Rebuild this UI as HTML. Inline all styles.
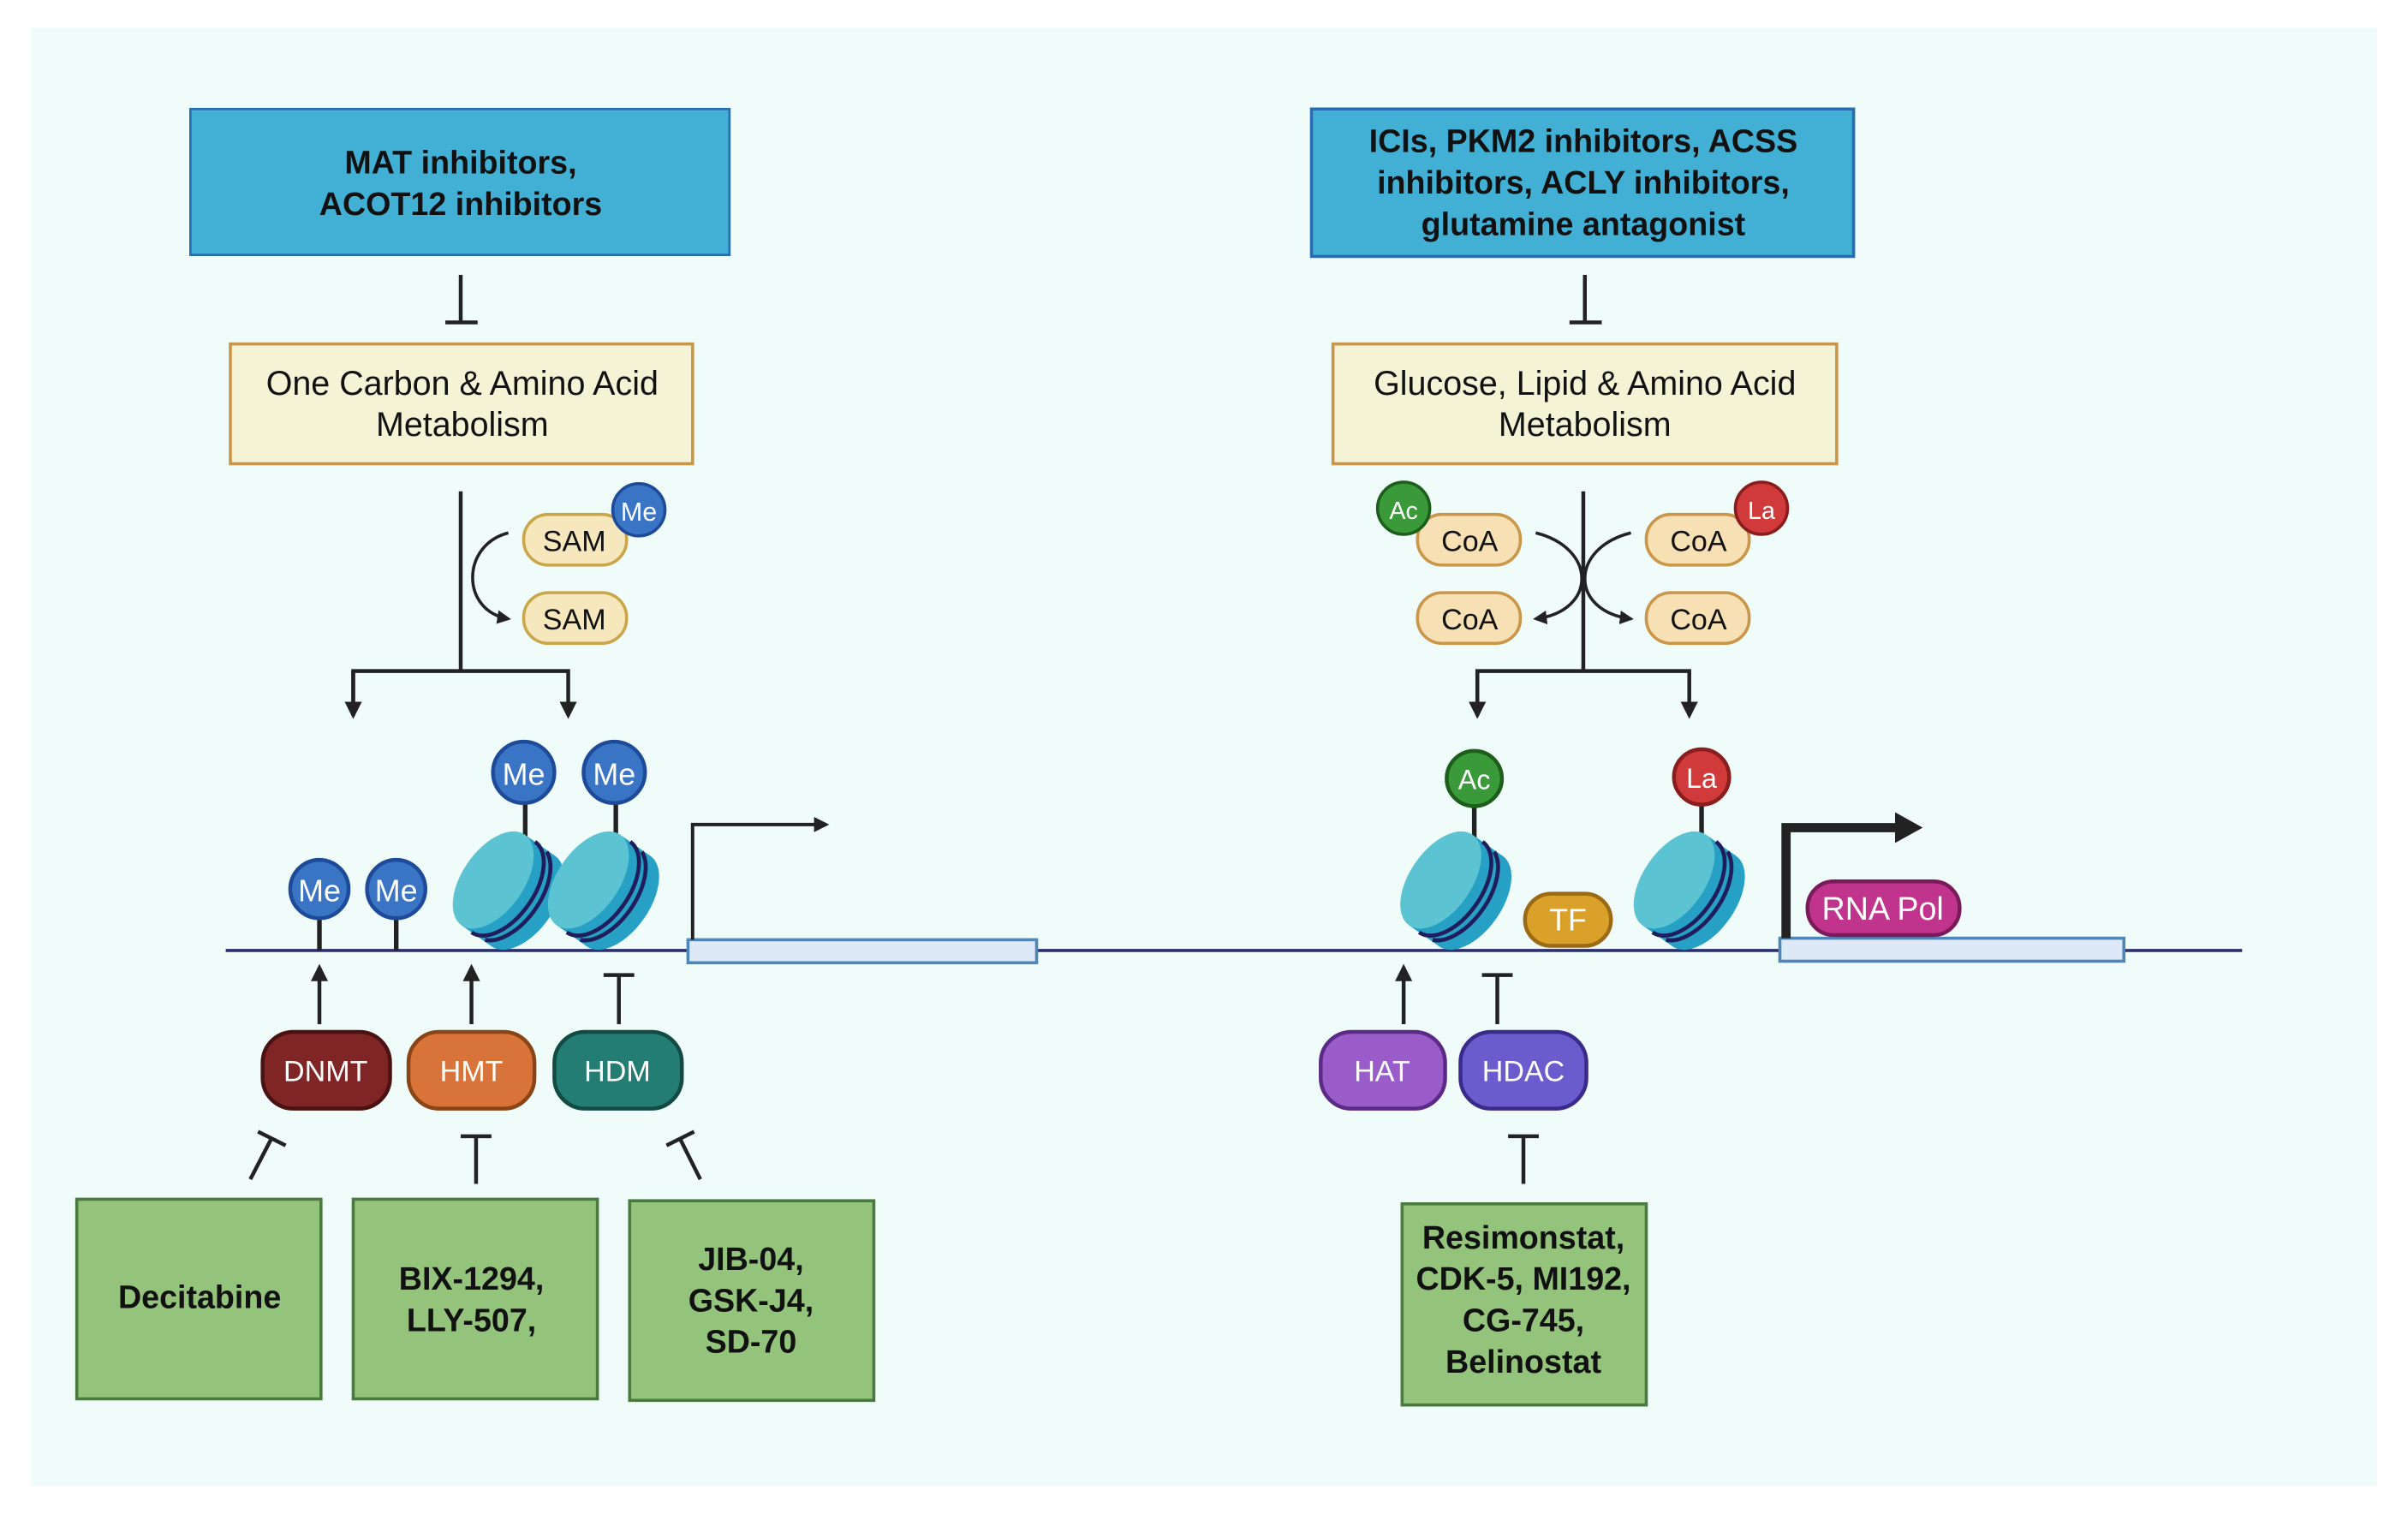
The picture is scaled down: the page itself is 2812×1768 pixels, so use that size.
<!DOCTYPE html>
<html><head><meta charset="utf-8"><style>
html,body{margin:0;padding:0;background:#fff}
svg{display:block}
text{font-family:"Liberation Sans","DejaVu Sans",sans-serif}
</style></head><body>
<svg width="2812" height="1768" viewBox="0 0 1568 986" preserveAspectRatio="none" xmlns="http://www.w3.org/2000/svg">
<defs>
<marker id="ah" viewBox="0 0 10 10" refX="8" refY="5" markerWidth="4.5" markerHeight="4.5" orient="auto"><path d="M0,0 L10,5 L0,10 z" fill="#222"/></marker>
<g id="nuc">
<g transform="rotate(35)">
<ellipse cx="12" cy="0" rx="20" ry="36" fill="#27a0c5"/>
<rect x="-12" y="-36" width="24" height="72" fill="#27a0c5"/>
<ellipse cx="-12" cy="0" rx="20" ry="36" fill="#5bc3d2"/>
<path d="M-4,-36 A20 36 0 0 1 -4,36" fill="none" stroke="#1f1d5c" stroke-width="2.6"/>
<path d="M6,-35 A20 36 0 0 1 6,35" fill="none" stroke="#1f1d5c" stroke-width="2.6"/>
</g>
</g>
</defs>
<rect x="0" y="0" width="1568" height="986" fill="#fff"/>
<rect x="20" y="18" width="1528" height="950" fill="#effcfa"/>

<!-- LEFT -->
<rect x="124" y="71" width="351" height="95" fill="#42b0d5" stroke="#2a6cb0" stroke-width="1.5"/>
<text x="300" y="113" font-size="21" font-weight="bold" text-anchor="middle" fill="#111">MAT inhibitors,</text>
<text x="300" y="140" font-size="21" font-weight="bold" text-anchor="middle" fill="#111">ACOT12 inhibitors</text>
<line x1="300" y1="179" x2="300" y2="210" stroke="#222" stroke-width="2.5"/>
<line x1="290" y1="210" x2="311" y2="210" stroke="#222" stroke-width="2.5"/>
<rect x="150" y="224" width="301" height="78" fill="#f5f3d6" stroke="#c8964a" stroke-width="2"/>
<text x="301" y="257" font-size="22" text-anchor="middle" fill="#111">One Carbon &amp; Amino Acid</text>
<text x="301" y="284" font-size="22" text-anchor="middle" fill="#111">Metabolism</text>
<line x1="300" y1="320" x2="300" y2="437" stroke="#222" stroke-width="2.5"/>
<path d="M230,466 V437 H370 V466" fill="none" stroke="#222" stroke-width="2.5" marker-end="url(#ah)"/>
<line x1="230" y1="437" x2="230" y2="466" stroke="#222" stroke-width="2.5" marker-end="url(#ah)"/>
<path d="M331,347 C300,355 300,398 331,403" fill="none" stroke="#222" stroke-width="2" marker-end="url(#ah)"/>
<rect x="341" y="335" width="67" height="33" rx="16" fill="#f6e7bc" stroke="#c9a64a" stroke-width="2"/>
<text x="374" y="359" font-size="19" text-anchor="middle" fill="#111">SAM</text>
<rect x="341" y="386" width="67" height="33" rx="16" fill="#f6e7bc" stroke="#c9a64a" stroke-width="2"/>
<text x="374" y="410" font-size="19" text-anchor="middle" fill="#111">SAM</text>
<circle cx="416" cy="332" r="17" fill="#3a74c4" stroke="#1d4b99" stroke-width="2"/>
<text x="416" y="339" font-size="17" text-anchor="middle" fill="#fff">Me</text>

<!-- DNA -->
<line x1="147" y1="619" x2="1460" y2="619" stroke="#2c2e6e" stroke-width="2"/>
<rect x="448" y="612" width="227" height="15" fill="#dde9f7" stroke="#4f86b8" stroke-width="2"/>
<path d="M451,612 V537 H538" fill="none" stroke="#222" stroke-width="2.2" marker-end="url(#ah)"/>

<line x1="208" y1="596" x2="208" y2="619" stroke="#222" stroke-width="3"/>
<line x1="258" y1="596" x2="258" y2="619" stroke="#222" stroke-width="3"/>
<circle cx="208" cy="579" r="19" fill="#3a74c4" stroke="#1d4b99" stroke-width="2.5"/>
<text x="208" y="587" font-size="20" text-anchor="middle" fill="#fff">Me</text>
<circle cx="258" cy="579" r="19" fill="#3a74c4" stroke="#1d4b99" stroke-width="2.5"/>
<text x="258" y="587" font-size="20" text-anchor="middle" fill="#fff">Me</text>

<line x1="342" y1="520" x2="342" y2="550" stroke="#222" stroke-width="3"/>
<line x1="401" y1="520" x2="401" y2="550" stroke="#222" stroke-width="3"/>
<use href="#nuc" x="331" y="580"/>
<use href="#nuc" x="393" y="580"/>
<circle cx="341" cy="503" r="20" fill="#3a74c4" stroke="#1d4b99" stroke-width="2.5"/>
<text x="341" y="511" font-size="20" text-anchor="middle" fill="#fff">Me</text>
<circle cx="400" cy="503" r="20" fill="#3a74c4" stroke="#1d4b99" stroke-width="2.5"/>
<text x="400" y="511" font-size="20" text-anchor="middle" fill="#fff">Me</text>

<line x1="208" y1="667" x2="208" y2="630" stroke="#222" stroke-width="2.5" marker-end="url(#ah)"/>
<line x1="307" y1="667" x2="307" y2="630" stroke="#222" stroke-width="2.5" marker-end="url(#ah)"/>
<line x1="403" y1="667" x2="403" y2="635" stroke="#222" stroke-width="2.5"/>
<line x1="393" y1="635" x2="413" y2="635" stroke="#222" stroke-width="2.5"/>

<rect x="171" y="672" width="83" height="50" rx="20" fill="#7f2525" stroke="#4a1212" stroke-width="2.5"/>
<text x="212" y="704" font-size="19" text-anchor="middle" fill="#fff">DNMT</text>
<rect x="266" y="672" width="82" height="50" rx="20" fill="#d8743a" stroke="#8a4416" stroke-width="2.5"/>
<text x="307" y="704" font-size="19" text-anchor="middle" fill="#fff">HMT</text>
<rect x="361" y="672" width="83" height="50" rx="20" fill="#237d73" stroke="#124a44" stroke-width="2.5"/>
<text x="402" y="704" font-size="19" text-anchor="middle" fill="#fff">HDM</text>

<line x1="163" y1="768" x2="177" y2="741" stroke="#222" stroke-width="2.5"/>
<line x1="168" y1="737" x2="186" y2="746" stroke="#222" stroke-width="2.5"/>
<line x1="310" y1="771" x2="310" y2="740" stroke="#222" stroke-width="2.5"/>
<line x1="300" y1="740" x2="320" y2="740" stroke="#222" stroke-width="2.5"/>
<line x1="456" y1="768" x2="443" y2="742" stroke="#222" stroke-width="2.5"/>
<line x1="434" y1="746" x2="452" y2="737" stroke="#222" stroke-width="2.5"/>

<rect x="50" y="781" width="159" height="130" fill="#94c47c" stroke="#4a7a40" stroke-width="2"/>
<text x="130" y="852" font-size="21" font-weight="bold" text-anchor="middle" fill="#111">Decitabine</text>
<rect x="230" y="781" width="159" height="130" fill="#94c47c" stroke="#4a7a40" stroke-width="2"/>
<text x="307" y="840" font-size="21" font-weight="bold" text-anchor="middle" fill="#111">BIX-1294,</text>
<text x="307" y="867" font-size="21" font-weight="bold" text-anchor="middle" fill="#111">LLY-507,</text>
<rect x="410" y="782" width="159" height="130" fill="#94c47c" stroke="#4a7a40" stroke-width="2"/>
<text x="489" y="827" font-size="21" font-weight="bold" text-anchor="middle" fill="#111">JIB-04,</text>
<text x="489" y="854" font-size="21" font-weight="bold" text-anchor="middle" fill="#111">GSK-J4,</text>
<text x="489" y="881" font-size="21" font-weight="bold" text-anchor="middle" fill="#111">SD-70</text>

<!-- RIGHT -->
<rect x="854" y="71" width="353" height="96" fill="#42b0d5" stroke="#2a6cb0" stroke-width="2"/>
<text x="1031" y="99" font-size="21" font-weight="bold" text-anchor="middle" fill="#111">ICIs, PKM2 inhibitors, ACSS</text>
<text x="1031" y="126" font-size="21" font-weight="bold" text-anchor="middle" fill="#111">inhibitors, ACLY inhibitors,</text>
<text x="1031" y="153" font-size="21" font-weight="bold" text-anchor="middle" fill="#111">glutamine antagonist</text>
<line x1="1032" y1="179" x2="1032" y2="210" stroke="#222" stroke-width="2.5"/>
<line x1="1022" y1="210" x2="1043" y2="210" stroke="#222" stroke-width="2.5"/>
<rect x="868" y="224" width="328" height="78" fill="#f5f3d6" stroke="#c8964a" stroke-width="2"/>
<text x="1032" y="257" font-size="22" text-anchor="middle" fill="#111">Glucose, Lipid &amp; Amino Acid</text>
<text x="1032" y="284" font-size="22" text-anchor="middle" fill="#111">Metabolism</text>
<line x1="1031" y1="320" x2="1031" y2="437" stroke="#222" stroke-width="2.5"/>
<path d="M962,466 V437 H1100 V466" fill="none" stroke="#222" stroke-width="2.5" marker-end="url(#ah)"/>
<line x1="962" y1="437" x2="962" y2="466" stroke="#222" stroke-width="2.5" marker-end="url(#ah)"/>
<path d="M1000,347 C1040,357 1040,398 1000,403" fill="none" stroke="#222" stroke-width="2" marker-end="url(#ah)"/>
<path d="M1062,347 C1022,357 1022,398 1062,403" fill="none" stroke="#222" stroke-width="2" marker-end="url(#ah)"/>
<rect x="923" y="335" width="67" height="33" rx="16" fill="#f6e0b4" stroke="#c9964a" stroke-width="2"/>
<text x="957" y="359" font-size="19" text-anchor="middle" fill="#111">CoA</text>
<rect x="923" y="386" width="67" height="33" rx="16" fill="#f6e0b4" stroke="#c9964a" stroke-width="2"/>
<text x="957" y="410" font-size="19" text-anchor="middle" fill="#111">CoA</text>
<rect x="1072" y="335" width="67" height="33" rx="16" fill="#f6e0b4" stroke="#c9964a" stroke-width="2"/>
<text x="1106" y="359" font-size="19" text-anchor="middle" fill="#111">CoA</text>
<rect x="1072" y="386" width="67" height="33" rx="16" fill="#f6e0b4" stroke="#c9964a" stroke-width="2"/>
<text x="1106" y="410" font-size="19" text-anchor="middle" fill="#111">CoA</text>
<circle cx="914" cy="331" r="17" fill="#3a9a3a" stroke="#1d5e1d" stroke-width="2"/>
<text x="914" y="338" font-size="16" text-anchor="middle" fill="#fff">Ac</text>
<circle cx="1147" cy="331" r="17" fill="#d03a3a" stroke="#8a1d1d" stroke-width="2"/>
<text x="1147" y="338" font-size="16" text-anchor="middle" fill="#fff">La</text>

<rect x="1159" y="611" width="224" height="15" fill="#dde9f7" stroke="#4f86b8" stroke-width="2"/>
<path d="M1163,611 V539 H1236" fill="none" stroke="#222" stroke-width="6"/>
<path d="M1234,529 L1252,539 L1234,549 z" fill="#222"/>

<line x1="960" y1="525" x2="960" y2="552" stroke="#222" stroke-width="3"/>
<line x1="1108" y1="524" x2="1108" y2="552" stroke="#222" stroke-width="3"/>
<use href="#nuc" x="948" y="580"/>
<use href="#nuc" x="1100" y="580"/>
<circle cx="960" cy="507" r="18" fill="#3a9a3a" stroke="#1d5e1d" stroke-width="2.5"/>
<text x="960" y="514" font-size="18" text-anchor="middle" fill="#fff">Ac</text>
<circle cx="1108" cy="506" r="18" fill="#d03a3a" stroke="#8a1d1d" stroke-width="2.5"/>
<text x="1108" y="513" font-size="18" text-anchor="middle" fill="#fff">La</text>
<rect x="993" y="582" width="56" height="34" rx="17" fill="#d9a02a" stroke="#9a6a14" stroke-width="2.5"/>
<text x="1021" y="606" font-size="20" text-anchor="middle" fill="#fff">TF</text>
<rect x="1177" y="574" width="99" height="35" rx="17" fill="#c0348e" stroke="#7a1a5a" stroke-width="2.5"/>
<text x="1226" y="599" font-size="21" text-anchor="middle" fill="#fff">RNA Pol</text>

<line x1="914" y1="667" x2="914" y2="630" stroke="#222" stroke-width="2.5" marker-end="url(#ah)"/>
<line x1="975" y1="667" x2="975" y2="635" stroke="#222" stroke-width="2.5"/>
<line x1="965" y1="635" x2="985" y2="635" stroke="#222" stroke-width="2.5"/>
<rect x="860" y="672" width="81" height="50" rx="20" fill="#9a5cc8" stroke="#5a2a86" stroke-width="2.5"/>
<text x="900" y="704" font-size="19" text-anchor="middle" fill="#fff">HAT</text>
<rect x="951" y="672" width="82" height="50" rx="20" fill="#6a5ccc" stroke="#3a2a8a" stroke-width="2.5"/>
<text x="992" y="704" font-size="19" text-anchor="middle" fill="#fff">HDAC</text>
<line x1="992" y1="771" x2="992" y2="740" stroke="#222" stroke-width="2.5"/>
<line x1="982" y1="740" x2="1002" y2="740" stroke="#222" stroke-width="2.5"/>
<rect x="913" y="784" width="159" height="131" fill="#94c47c" stroke="#4a7a40" stroke-width="2"/>
<text x="992" y="813" font-size="21" font-weight="bold" text-anchor="middle" fill="#111">Resimonstat,</text>
<text x="992" y="840" font-size="21" font-weight="bold" text-anchor="middle" fill="#111">CDK-5, MI192,</text>
<text x="992" y="867" font-size="21" font-weight="bold" text-anchor="middle" fill="#111">CG-745,</text>
<text x="992" y="894" font-size="21" font-weight="bold" text-anchor="middle" fill="#111">Belinostat</text>
</svg>
</body></html>
